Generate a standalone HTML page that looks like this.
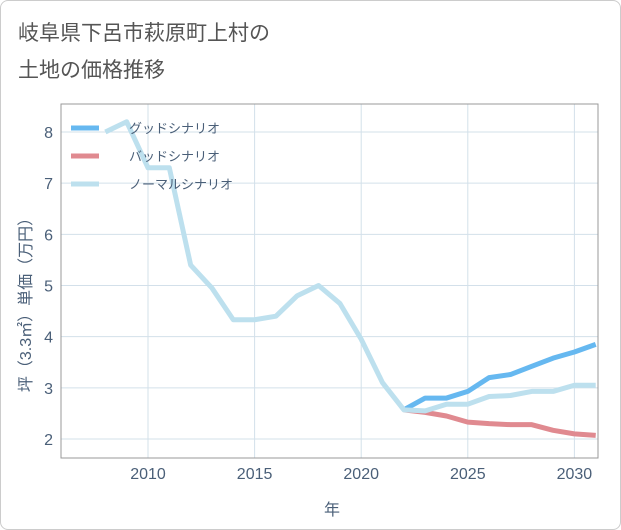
<!DOCTYPE html>
<html><head><meta charset="utf-8"><style>
body{margin:0;background:#fff;font-family:"Liberation Sans","Noto Sans CJK JP",sans-serif}
#wrap{position:relative;width:619px;height:528px;border:1px solid #ccc;border-radius:8px;overflow:hidden}
.title{position:absolute;left:17px;font-size:21px;color:#555}
</style></head><body>
<div id="wrap">
<div class="title" style="top:16px">岐阜県下呂市萩原町上村の</div>
<div class="title" style="top:53px">土地の価格推移</div>
<svg id="svg" width="621" height="530" style="position:absolute;left:0;top:0"></svg>
</div>
<script>
const years=[2008,2009,2010,2011,2012,2013,2014,2015,2016,2017,2018,2019,2020,2021,2022,2023,2024,2025,2026,2027,2028,2029,2030,2031];
const normalVals=[8.0,8.2,7.3,7.3,5.4,4.95,4.33,4.33,4.4,4.8,5.0,4.65,3.95,3.1,2.57,2.55,2.68,2.68,2.83,2.85,2.93,2.93,3.05,3.05];
const futureYears=[2022,2023,2024,2025,2026,2027,2028,2029,2030,2031];
const goodVals=[2.57,2.8,2.8,2.93,3.2,3.26,3.42,3.58,3.7,3.85];
const badVals=[2.57,2.52,2.45,2.33,2.3,2.28,2.28,2.17,2.1,2.07];
const xTicks=[2010,2015,2020,2025,2030];
const yTicks=[2,3,4,5,6,7,8];
const L=60,R=597,T=103,B=457;
const x=v=>147+(v-2010)*21.32;
const y=v=>438-(v-2)*51.17;
const svg=document.getElementById('svg');
const NS='http://www.w3.org/2000/svg';
function mk(t,a){const e=document.createElementNS(NS,t);for(const k in a)e.setAttribute(k,a[k]);svg.appendChild(e);return e;}
for(const t of xTicks){const l=mk('line',{x1:x(t),x2:x(t),y1:T,y2:B,stroke:'#d3e0ea','stroke-width':1});


const tx=mk('text',{x:x(t),y:478,'text-anchor':'middle','font-size':16,fill:'#4a5f78'});tx.textContent=t;

}
for(const t of yTicks){const l=mk('line',{x1:L,x2:R,y1:y(t),y2:y(t),stroke:'#d3e0ea','stroke-width':1});


const tx=mk('text',{x:52,y:y(t)+6,'text-anchor':'end','font-size':16,fill:'#4a5f78'});tx.textContent=t;

}
const fr=mk('rect',{x:L,y:T,width:R-L,height:B-T,fill:'none',stroke:'#999','stroke-width':1});


function line(xs,vs,c,name){const p=mk('polyline',{points:xs.map((t,i)=>x(t)+','+y(vs[i])).join(' '),fill:'none',stroke:c,'stroke-width':5,'stroke-linejoin':'round'});

}
line(futureYears,badVals,'#e08a90','bad-scenario-line');
line(futureYears,goodVals,'#66b8f0','good-scenario-line');
line(years,normalVals,'#bde0ee','normal-scenario-line');
const leg=[['グッドシナリオ','#66b8f0'],['バッドシナリオ','#e08a90'],['ノーマルシナリオ','#bde0ee']];
leg.forEach((d,i)=>{const yy=127+i*28;
const l=mk('line',{x1:70,x2:98,y1:yy,y2:yy,stroke:d[1],'stroke-width':5});


const t=mk('text',{x:128,y:yy+5,'font-size':13,fill:'#4a5f78'});t.textContent=d[0];

});
const xt=mk('text',{x:331,y:514,'text-anchor':'middle','font-size':16,fill:'#4a5f78'});xt.textContent='年';


const yt=mk('text',{x:0,y:0,'text-anchor':'middle','font-size':16,fill:'#4a5f78',transform:'translate(30,300) rotate(-90)'});yt.textContent='坪（3.3㎡）単価（万円）';


</script>
</body></html>
